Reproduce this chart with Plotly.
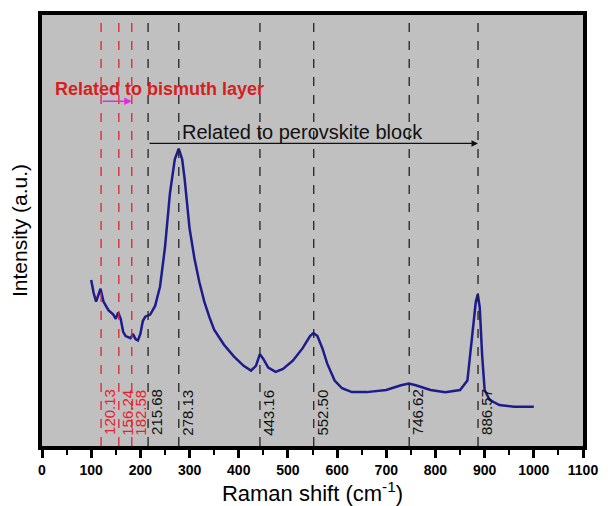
import plotly.graph_objects as go

# Spectrum (Raman shift, intensity a.u.)
shift = [100, 105, 110, 115, 119, 125, 135, 145, 150, 155, 160, 165, 170, 180, 185, 190, 195,
         200, 205, 210, 220, 230, 240, 250, 260, 270, 278, 285, 290, 300, 310, 320, 330, 340,
         350, 370, 390, 410, 425, 435, 443, 450, 460, 475, 490, 510, 530, 545, 552, 560, 570,
         580, 595, 610, 630, 660, 700, 730, 746, 760, 790, 820, 850, 865, 875, 882, 886, 890,
         895, 900, 910, 930, 960, 1000]
intensity = [38.5, 35.5, 33.5, 35.0, 36.5, 33.5, 31.5, 30.5, 29.5, 31.0, 29.5, 26.5, 25.5, 25.0,
             26.0, 24.8, 24.5, 26.0, 29.0, 30.0, 30.5, 32.5, 37.0, 46.0, 58.5, 66.5, 69.0, 66.5,
             62.0, 50.5, 43.5, 38.0, 33.5, 30.0, 27.0, 23.5, 20.8, 18.6, 17.5, 18.6, 21.3, 20.2,
             18.2, 17.2, 17.9, 19.8, 22.7, 25.5, 26.2, 25.5, 22.7, 19.1, 15.2, 13.4, 12.5, 12.5,
             13.0, 14.1, 14.5, 14.1, 13.0, 12.5, 13.0, 15.2, 25.5, 33.4, 35.2, 32.2, 20.9, 13.0,
             10.7, 9.5, 9.1, 9.1]

# Marked peak positions
bi_peaks = [120.13, 156.24, 182.58]
pv_peaks = [215.68, 278.13, 443.16, 552.50, 746.62, 886.57]
bi_labels = ["120.13", "156.24", "182.58"]
pv_labels = ["215.68", "278.13", "443.16", "552.50", "746.62", "886.57"]

x_ticks = list(range(0, 1101, 100))

fig = go.Figure()
fig.add_trace(go.Scatter(x=shift, y=intensity, mode="lines",
                         line=dict(color="#1c1c8c", width=2.5), showlegend=False))

shapes = []
annotations = []
for p, lab in zip(bi_peaks, bi_labels):
    shapes.append(dict(type="line", xref="x", yref="paper", x0=p, x1=p, y0=0, y1=0.985,
                       line=dict(color="#e8202a", width=1.3, dash="dash")))
    annotations.append(dict(x=p, y=0.02, xref="x", yref="paper", text=lab, textangle=-90,
                            showarrow=False, xanchor="left", yanchor="bottom", xshift=-2,
                            font=dict(family="Arial", size=15, color="#e8202a")))
for p, lab in zip(pv_peaks, pv_labels):
    shapes.append(dict(type="line", xref="x", yref="paper", x0=p, x1=p, y0=0, y1=0.985,
                       line=dict(color="#222222", width=1.3, dash="dash")))
    annotations.append(dict(x=p, y=0.02, xref="x", yref="paper", text=lab, textangle=-90,
                            showarrow=False, xanchor="left", yanchor="bottom", xshift=-2,
                            font=dict(family="Arial", size=15, color="#111111")))

# arrows
annotations.append(dict(x=pv_peaks[-1], y=70.2, ax=pv_peaks[0], ay=70.2, xref="x", yref="y",
                        axref="x", ayref="y", showarrow=True, arrowhead=2, arrowsize=1,
                        arrowwidth=1.3, arrowcolor="#111111", text=""))
annotations.append(dict(x=529, y=72.8, xref="x", yref="y", text="Related to perovskite block",
                        showarrow=False, font=dict(family="Arial", size=20, color="#111111")))
annotations.append(dict(x=bi_peaks[-1], y=80.0, ax=bi_peaks[0], ay=80.0, xref="x", yref="y",
                        axref="x", ayref="y", showarrow=True, arrowhead=2, arrowsize=1,
                        arrowwidth=1.5, arrowcolor="#ee22ee", text=""))
annotations.append(dict(x=238, y=82.8, xref="x", yref="y", text="<b>Related to bismuth layer</b>",
                        showarrow=False, font=dict(family="Arial", size=18, color="#d42020")))

fig.update_layout(
    width=609, height=506,
    margin=dict(l=42, r=24, t=11, b=53),
    paper_bgcolor="white", plot_bgcolor="#c0c0c0",
    shapes=shapes, annotations=annotations,
    xaxis=dict(range=[0, 1100], tickvals=x_ticks, ticktext=[f"<b>{v}</b>" for v in x_ticks],
               ticks="outside", ticklen=8, tickwidth=3,
               tickcolor="black", showline=True, linewidth=4, linecolor="black", mirror=True,
               showgrid=False, zeroline=False,
               minor=dict(dtick=50, ticks="outside", ticklen=5, tickwidth=2, tickcolor="black"),
               tickfont=dict(family="Arial", size=14, color="black"),
               title=dict(text="Raman shift (cm<sup>-1</sup>)", standoff=2,
                          font=dict(family="Arial", size=22, color="black"))),
    yaxis=dict(range=[0, 100], showticklabels=False, ticks="", showline=True, linewidth=4,
               linecolor="black", mirror=True, showgrid=False, zeroline=False,
               title=dict(text="Intensity (a.u.)", standoff=6,
                          font=dict(family="Arial", size=21, color="black"))),
)

fig.write_html("out.html")
